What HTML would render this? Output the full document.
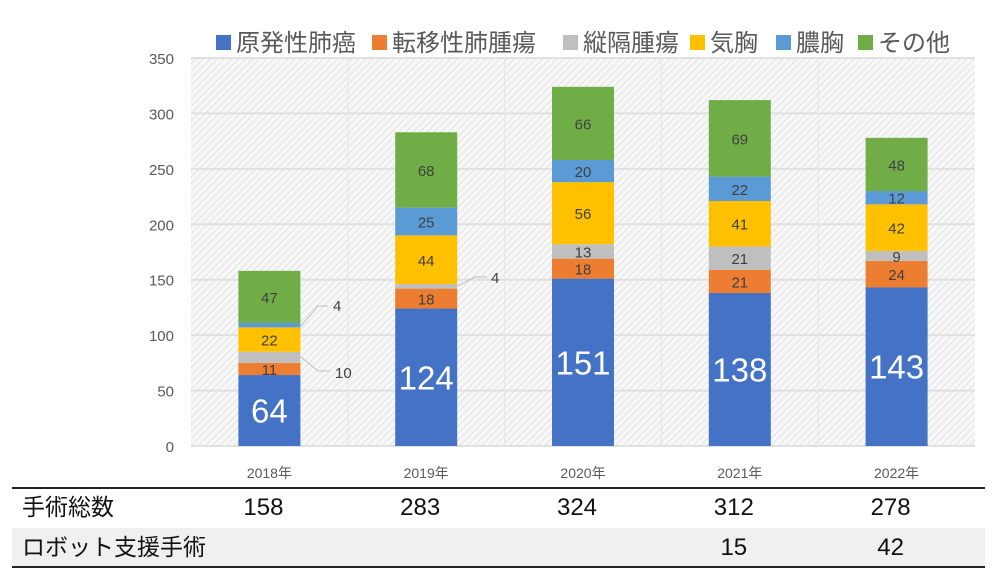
<!DOCTYPE html>
<html><head><meta charset="utf-8"><style>
body{margin:0;background:#fff;width:1000px;height:579px;overflow:hidden;font-family:"Liberation Sans","Noto Sans CJK JP",sans-serif}
</style></head><body>
<svg id="s" width="1000" height="579" xmlns="http://www.w3.org/2000/svg" font-family="Liberation Sans, Noto Sans CJK JP, sans-serif">
<defs><pattern id="h" width="5" height="5" patternUnits="userSpaceOnUse" patternTransform="rotate(45)"><rect width="5" height="5" fill="#f7f7f7"/><line x1="0" y1="0" x2="0" y2="5" stroke="#d4d4d4" stroke-width="1.2"/></pattern></defs>
<rect x="191" y="58" width="784" height="388" fill="url(#h)"/>
<g id="g"></g>
</svg>
<script>
const g=document.getElementById('g');let h='';
const y0=446,k=388/350,L=191,W=784,cw=W/5;
for(let v=0;v<=350;v+=50){const y=y0-v*k;h+=`<line x1="${L}" x2="${L+W}" y1="${y}" y2="${y}" stroke="#e0e0e0" stroke-width="2"/><text x="174" y="${y+6}" text-anchor="end" font-size="15" fill="#595959">${v}</text>`;}
for(let i=1;i<5;i++){const x=L+cw*i;h+=`<line x1="${x}" x2="${x}" y1="58" y2="446" stroke="#e6e6e6" stroke-width="1"/>`;}
const cols=['#4472C4','#ED7D31','#BFBFBF','#FFC000','#5B9BD5','#70AD47'];
const D=[[64,11,10,22,4,47],[124,18,4,44,25,68],[151,18,13,56,20,66],[138,21,21,41,22,69],[143,24,9,42,12,48]];
const yrs=['2018年','2019年','2020年','2021年','2022年'];
D.forEach((d,i)=>{const cx=L+cw*(i+0.5),bx=cx-31;let c=0;
 d.forEach((v,j)=>{const yt=y0-(c+v)*k,yb=y0-c*k;h+=`<rect x="${bx}" y="${yt}" width="62" height="${yb-yt}" fill="${cols[j]}"/>`;
  const ym=(yt+yb)/2;let out=(i==0&&(j==2||j==4))||(i==1&&j==2);
  if(j==0)h+=`<text x="${cx}" y="${ym+12}" text-anchor="middle" font-size="33" fill="#fff">${v}</text>`;
  else if(!out)h+=`<text x="${cx}" y="${ym+6}" text-anchor="middle" font-size="15" fill="#404040">${v}</text>`;
  c+=v;});
 h+=`<text x="${cx}" y="478" text-anchor="middle" font-size="14" fill="#595959">${yrs[i]}</text>`;});
h+=`<polyline points="301,357 318,371 330,371" fill="none" stroke="#bfbfbf"/><text x="335" y="378" font-size="15" fill="#404040">10</text>`;
h+=`<polyline points="301,326 318,306 328,306" fill="none" stroke="#bfbfbf"/><text x="333" y="311" font-size="15" fill="#404040">4</text>`;
h+=`<polyline points="458,286 475,277 486,277" fill="none" stroke="#bfbfbf"/><text x="491" y="283" font-size="15" fill="#404040">4</text>`;
const lg=[['原発性肺癌',216],['転移性肺腫瘍',372],['縦隔腫瘍',563],['気胸',690],['膿胸',776],['その他',858]];
lg.forEach((l,j)=>{h+=`<rect x="${l[1]}" y="35" width="15" height="15" fill="${cols[j]}"/><text x="${l[1]+20}" y="51" font-size="24" fill="#595959">${l[0]}</text>`;});
h+=`<line x1="12" x2="985" y1="488" y2="488" stroke="#222" stroke-width="2"/>`;
h+=`<rect x="12" y="528" width="973" height="39" fill="#f0f0f0"/><line x1="12" x2="985" y1="567" y2="567" stroke="#222" stroke-width="2"/>`;
h+=`<text x="22" y="515" font-size="23" fill="#111">手術総数</text><text x="22" y="555" font-size="23" fill="#111">ロボット支援手術</text>`;
[158,283,324,312,278].forEach((v,i)=>{h+=`<text x="${L+cw*(i+0.5)-6}" y="515" text-anchor="middle" font-size="24" fill="#111">${v}</text>`;});
h+=`<text x="${L+cw*3.5-6}" y="555" text-anchor="middle" font-size="24" fill="#111">15</text><text x="${L+cw*4.5-6}" y="555" text-anchor="middle" font-size="24" fill="#111">42</text>`;
g.innerHTML=h;
</script>
</body></html>
